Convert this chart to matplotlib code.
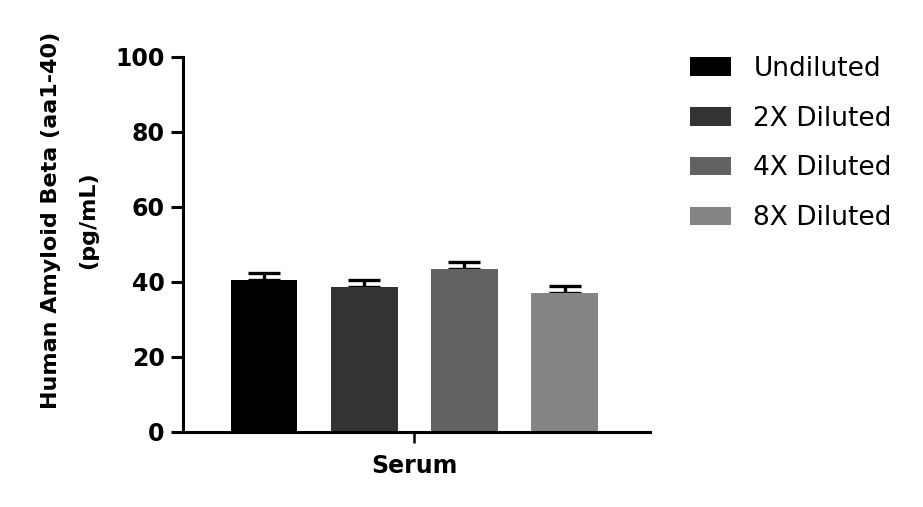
import matplotlib
matplotlib.use('Agg')
import matplotlib.pyplot as plt
import numpy as np

groups = ['Undiluted', '2X Diluted', '4X Diluted', '8X Diluted']
means = [40.5, 38.7, 43.5, 37.1]
errors = [2.0, 1.7, 1.8, 1.7]
colors = ['#000000', '#333333', '#626262', '#858585']
sample = 'Serum'
yticks = [0, 20, 40, 60, 80, 100]

plt.rcParams['font.family'] = ['DejaVu Sans']

fig = plt.figure(figsize=(9.23, 5.07), dpi=100)
ax = fig.add_axes([0.198, 0.148, 0.506, 0.740])

x = np.arange(len(groups))
for i in range(len(groups)):
    ax.bar(x[i], means[i], width=0.667, color=colors[i], label=groups[i], zorder=2)
    ax.errorbar(x[i], means[i], yerr=[[0], [errors[i]]], fmt='none', ecolor='black',
                elinewidth=2.4, capsize=11.5, capthick=2.4, zorder=1)

ax.set_xlim(-0.81, 3.85)
ax.set_ylim(0, 100)
ax.set_yticks(yticks)
ax.set_xticks([1.5])
ax.set_xticklabels([sample])

for side in ['top', 'right']:
    ax.spines[side].set_visible(False)
for side in ['left', 'bottom']:
    ax.spines[side].set_linewidth(2.2)
ax.tick_params(axis='y', width=2.2, length=9, labelsize=17, pad=4)
ax.tick_params(axis='x', width=1.8, length=8, labelsize=17, pad=8)
for lab in ax.get_xticklabels() + ax.get_yticklabels():
    lab.set_fontweight('bold')

ax.set_ylabel('Human Amyloid Beta (aa1-40)\n(pg/mL)', fontsize=16, fontweight='bold',
              multialignment='center', linespacing=2.05)
ax.yaxis.set_label_coords(-0.182, 0.565)

fig.legend(loc='upper left', bbox_to_anchor=(0.7475, 0.89), frameon=False, fontsize=19,
           handlelength=1.55, handleheight=0.7, handletextpad=0.85, labelspacing=0.9,
           borderpad=0, borderaxespad=0)

plt.savefig('out.png', dpi=100)
